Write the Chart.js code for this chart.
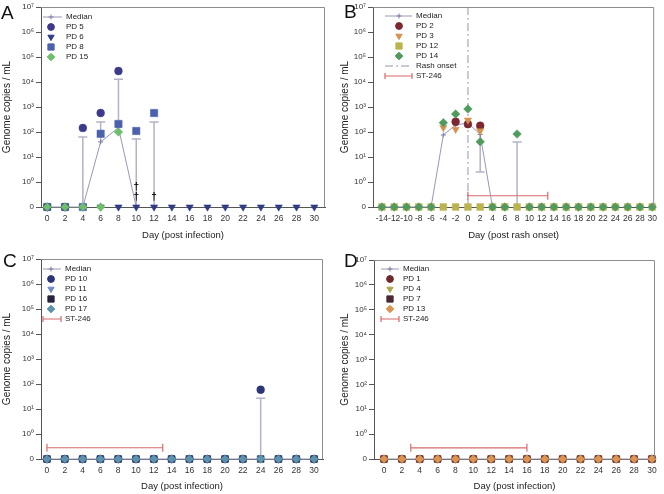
<!DOCTYPE html>
<html>
<head>
<meta charset="utf-8">
<script src="https://cdn.jsdelivr.net/npm/chart.js@4/dist/chart.umd.min.js"></script>
<style>
  body { margin: 0; background: #fff; }
  #wrap { position: relative; width: 664px; height: 494px; }
  canvas { position: absolute; }
</style>
</head>
<body>
<div id="wrap">
  <canvas id="cA" width="332" height="247" style="left:0;top:0"></canvas>
  <canvas id="cB" width="332" height="247" style="left:332px;top:0"></canvas>
  <canvas id="cC" width="332" height="247" style="left:0;top:247px"></canvas>
  <canvas id="cD" width="332" height="247" style="left:332px;top:247px"></canvas>
</div>
<script>
// ---- data (genome copies / mL, 0 = undetected) ----
const daysA = [0, 2, 4, 6, 8, 10, 12, 14, 16, 18, 20, 22, 24, 26, 28, 30];
const medianA = [0, 0, 0, 40, 150, 0];
const pd5 = [0, 0, 145, 575, 27500];
const pd6 = [0, 0, 0, 0, 0, 0, 0, 0, 0, 0, 0, 0, 0, 0, 0, 0];
const pd8 = [0, 0, 0, 85, 210, 110, 575];
const pd15 = [0, 0, 0, 0, 100];
const errDaysA = [4, 6, 8, 10, 12];
const errFromA = [0, 40, 150, 0, 0];
const errToA = [63, 250, 13000, 52, 250];
const deathDaysA = [10, 10, 12];

const daysB = [-14, -12, -10, -8, -6, -4, -2, 0, 2, 4, 6, 8, 10, 12, 14, 16, 18, 20, 22, 24, 26, 28, 30];
const medianB = [0, 0, 0, 0, 0, 76, 190, 230, 80, 0];
const pd2 = [null, null, null, null, null, null, 257, 205, 178];
const pd3 = [null, null, null, null, null, 150, 128, 300, 110];
const pd12 = [0, 0, 0, 0, 0, 0, 0, 0, 0, 0, 0, 0, 0, 0, 0, 0, 0, 0, 0, 0, 0, 0, 0];
const pd14 = [0, 0, 0, 0, 0, 235, 525, 830, 41, 0, 0, 83, 0, 0, 0, 0, 0, 0, 0, 0, 0, 0, 0];
const errDaysB = [2, 8];
const errFromB = [80, 0];
const errToB = [2.5, 40];
const rashDay = 0;
const stB = [0, 13];

const daysC = [0, 2, 4, 6, 8, 10, 12, 14, 16, 18, 20, 22, 24, 26, 28, 30];
const medianC = [0, 0, 0, 0, 0, 0, 0, 0, 0, 0, 0, 0, 0, 0, 0, 0];
const pd10 = [0, 0, 0, 0, 0, 0, 0, 0, 0, 0, 0, 0, 59, 0, 0, 0];
const pd11 = [0, 0, 0, 0, 0, 0, 0, 0, 0, 0, 0, 0, 0, 0, 0, 0];
const pd16 = [0, 0, 0, 0, 0, 0, 0, 0, 0, 0, 0, 0, 0, 0, 0, 0];
const pd17 = [0, 0, 0, 0, 0, 0, 0, 0, 0, 0, 0, 0, 0, 0, 0, 0];
const errDaysC = [24];
const errFromC = [0];
const errToC = [27];
const stC = [0, 13];

const daysD = [0, 2, 4, 6, 8, 10, 12, 14, 16, 18, 20, 22, 24, 26, 28, 30];
const medianD = [0, 0, 0, 0, 0, 0, 0, 0, 0, 0, 0, 0, 0, 0, 0, 0];
const pd1 = [0, 0, 0, 0, 0, 0, 0, 0, 0, 0, 0, 0, 0, 0, 0, 0];
const pd4 = [0, 0, 0, 0, 0, 0, 0, 0, 0, 0, 0, 0, 0, 0, 0, 0];
const pd7 = [0, 0, 0, 0, 0, 0, 0, 0, 0, 0, 0, 0, 0, 0, 0, 0];
const pd13 = [0, 0, 0, 0, 0, 0, 0, 0, 0, 0, 0, 0, 0, 0, 0, 0];
const stD = [3, 16];

const yTicks = [-1, 0, 1, 2, 3, 4, 5, 6, 7];
const SUP = ['\u2070', '\u00b9', '\u00b2', '\u00b3', '\u2074', '\u2075', '\u2076', '\u2077'];

// ---- helpers ----
const FONT = '"Liberation Sans", Arial, sans-serif';
Chart.defaults.font.family = FONT;
const MEDIAN_COL = '#9898b6';
const ERR_COL = '#b2b2c8';
const ST_COL = '#d86a6a';
const ST_LEVEL = -0.55;   // axis position of the ST-246 bar

// log10 position, undetected (0) sits on the "0" row one decade below 10^0
function pos(v) { return v == null ? null : (v > 0 ? Math.log10(v) : -1); }
function pts(days, vals) { return days.map((d, i) => ({ x: d, y: pos(vals[i]) })); }

function markers(label, days, vals, style, color, radius, rotation) {
  return {
    label, data: pts(days, vals), showLine: false, clip: false,
    pointStyle: style, pointRadius: radius, pointRotation: rotation || 0,
    pointBackgroundColor: color, pointBorderColor: color, pointBorderWidth: 0.5
  };
}
function medianSet(days, vals) {
  return {
    label: 'Median', data: pts(days, vals), showLine: true, clip: false,
    borderColor: MEDIAN_COL, borderWidth: 1,
    pointStyle: 'cross', pointRadius: 2.5, pointBorderColor: '#7c7ca4', pointBorderWidth: 1
  };
}

function extras(cfg) {
  return {
    id: 'extras',
    beforeDatasetsDraw(chart) {
      const { ctx, scales: { x, y }, chartArea: a } = chart;
      ctx.save();
      if (cfg.rash != null) {
        const px = x.getPixelForValue(cfg.rash);
        ctx.strokeStyle = '#c9c9d6';
        ctx.lineWidth = 2;
        ctx.setLineDash([8, 3, 2, 3]);
        ctx.beginPath(); ctx.moveTo(px, a.top); ctx.lineTo(px, a.bottom); ctx.stroke();
        ctx.setLineDash([]);
      }
      if (cfg.err) {
        ctx.strokeStyle = ERR_COL;
        ctx.lineWidth = 1.5;
        cfg.err.days.forEach((d, i) => {
          const px = x.getPixelForValue(d);
          const y0 = y.getPixelForValue(pos(cfg.err.from[i]));
          const y1 = y.getPixelForValue(pos(cfg.err.to[i]));
          ctx.beginPath();
          ctx.moveTo(px, y0); ctx.lineTo(px, y1);
          ctx.moveTo(px - 4.5, y1); ctx.lineTo(px + 4.5, y1);
          ctx.stroke();
        });
      }
      if (cfg.st) {
        const x0 = x.getPixelForValue(cfg.st[0]);
        const x1 = x.getPixelForValue(cfg.st[1]);
        const py = y.getPixelForValue(ST_LEVEL);
        ctx.strokeStyle = ST_COL;
        ctx.lineWidth = 1.2;
        ctx.beginPath();
        ctx.moveTo(x0, py); ctx.lineTo(x1, py);
        ctx.moveTo(x0, py - 4); ctx.lineTo(x0, py + 4);
        ctx.moveTo(x1, py - 4); ctx.lineTo(x1, py + 4);
        ctx.stroke();
      }
      ctx.restore();
    },
    afterDraw(chart) {
      const { ctx, scales: { x, y }, chartArea: a } = chart;
      ctx.save();
      // top and right frame
      ctx.strokeStyle = '#8c8c8c';
      ctx.lineWidth = 1;
      ctx.beginPath();
      ctx.moveTo(a.left, a.top + 0.5); ctx.lineTo(a.right - 0.5, a.top + 0.5); ctx.lineTo(a.right - 0.5, a.bottom);
      ctx.stroke();

      // legend
      const L = cfg.legend;
      ctx.font = '8px ' + FONT;
      ctx.textBaseline = 'middle';
      L.items.forEach((it, i) => {
        const ly = L.y + i * 10;
        ctx.fillStyle = '#222';
        ctx.fillText(it.label, L.textX, ly);
        if (it.kind === 'median') {
          ctx.strokeStyle = MEDIAN_COL; ctx.lineWidth = 1;
          ctx.beginPath(); ctx.moveTo(L.x0, ly); ctx.lineTo(L.x1, ly); ctx.stroke();
          ctx.strokeStyle = '#7c7ca4';
          Chart.helpers.drawPoint(ctx, { pointStyle: 'cross', radius: 2.5, borderWidth: 1, rotation: 0 }, L.mx, ly);
        } else if (it.kind === 'rash') {
          ctx.strokeStyle = '#c9c9d6'; ctx.lineWidth = 2;
          ctx.setLineDash([8, 3, 2, 3]);
          ctx.beginPath(); ctx.moveTo(L.x0, ly); ctx.lineTo(L.x1, ly); ctx.stroke();
          ctx.setLineDash([]);
        } else if (it.kind === 'st') {
          ctx.strokeStyle = ST_COL; ctx.lineWidth = 1.2;
          ctx.beginPath();
          ctx.moveTo(L.x0, ly); ctx.lineTo(L.x1, ly);
          ctx.moveTo(L.x0, ly - 3); ctx.lineTo(L.x0, ly + 3);
          ctx.moveTo(L.x1, ly - 3); ctx.lineTo(L.x1, ly + 3);
          ctx.stroke();
        } else {
          ctx.fillStyle = it.color; ctx.strokeStyle = it.color;
          Chart.helpers.drawPoint(ctx, { pointStyle: it.style, radius: it.r, borderWidth: 0.5, rotation: it.rot || 0 }, L.mx, ly);
        }
      });

      // deaths
      if (cfg.deaths) {
        ctx.fillStyle = '#000';
        ctx.font = 'bold 10px ' + FONT;
        ctx.textAlign = 'center';
        const count = {};
        cfg.deaths.forEach(d => {
          const k = count[d] = (count[d] || 0) + 1;
          ctx.fillText('\u2020', x.getPixelForValue(d), y.getPixelForValue(-1) - 10 - (k - 1) * 10);
        });
      }

      // panel letter
      ctx.fillStyle = '#111';
      ctx.textAlign = 'left';
      ctx.textBaseline = 'alphabetic';
      ctx.font = '19px ' + FONT;
      ctx.fillText(cfg.letter.t, cfg.letter.x, cfg.letter.y);
      ctx.restore();
    }
  };
}

function panel(id, cfg) {
  new Chart(document.getElementById(id), {
    type: 'scatter',
    data: { datasets: cfg.datasets },
    options: {
      responsive: false,
      animation: false,
      layout: { padding: { top: cfg.area.top, right: cfg.area.right, left: 0, bottom: 0 } },
      plugins: { legend: { display: false }, tooltip: { enabled: false } },
      scales: {
        x: {
          type: 'linear', min: cfg.xMin, max: cfg.xMax,
          afterBuildTicks: s => { s.ticks = cfg.xTicks.map(v => ({ value: v })); },
          afterFit: s => { s.height = cfg.area.xh; },
          grid: { drawOnChartArea: false, drawTicks: false },
          border: { color: '#555', width: 1 },
          ticks: { font: { size: 8.5 }, color: '#333', padding: 7, maxRotation: 0, autoSkip: false },
          title: { display: true, text: cfg.xTitle, font: { size: 9.5 }, color: '#222', padding: { top: 0, bottom: cfg.xTitlePad } }
        },
        y: {
          type: 'linear', min: -1, max: 7,
          afterBuildTicks: s => { s.ticks = yTicks.map(v => ({ value: v })); },
          afterFit: s => { s.width = cfg.area.left; },
          grid: { drawOnChartArea: false, drawTicks: true, tickLength: 5, color: '#555' },
          border: { color: '#555', width: 1 },
          ticks: { font: { size: 8 }, color: '#333', padding: 2, callback: v => v === -1 ? '0' : '10' + SUP[v] },
          title: { display: true, text: 'Genome copies / mL', font: { size: 10 }, color: '#222', padding: { top: cfg.yTitlePad, bottom: 0 } }
        }
      }
    },
    plugins: [extras(cfg)]
  });
}

// ---- A ----
panel('cA', {
  area: { left: 41, top: 7, right: 7, xh: 40 },
  xMin: -0.7, xMax: 31.2, xTicks: daysA, xTitle: 'Day (post infection)', xTitlePad: 6, yTitlePad: 1,
  datasets: [
    markers('PD 15', daysA, pd15, 'rectRot', '#6dbf6b', 4.3),
    markers('PD 5', daysA, pd5, 'circle', '#3d3a8c', 3.9),
    markers('PD 8', daysA, pd8, 'rect', '#4b61ad', 5.2),
    markers('PD 6', daysA, pd6, 'triangle', '#2f3b86', 4.2, 180),
    medianSet(daysA, medianA)
  ],
  err: { days: errDaysA, from: errFromA, to: errToA },
  deaths: deathDaysA,
  letter: { t: 'A', x: 1, y: 19 },
  legend: { x0: 43, x1: 62, mx: 51, textX: 66, y: 17, items: [
    { label: 'Median', kind: 'median' },
    { label: 'PD 5', style: 'circle', color: '#3d3a8c', r: 3.4 },
    { label: 'PD 6', style: 'triangle', color: '#2f3b86', r: 3.6, rot: 180 },
    { label: 'PD 8', style: 'rect', color: '#4b61ad', r: 4.4 },
    { label: 'PD 15', style: 'rectRot', color: '#6dbf6b', r: 3.8 }
  ] }
});

// ---- B ----
panel('cB', {
  area: { left: 41, top: 7, right: 7, xh: 40 },
  xMin: -15.45, xMax: 30.32, xTicks: daysB, xTitle: 'Day (post rash onset)', xTitlePad: 6, yTitlePad: 7,
  datasets: [
    markers('PD 14', daysB, pd14, 'rectRot', '#4f9a5c', 4.3),
    markers('PD 3', daysB, pd3, 'triangle', '#d7914f', 4.2, 180),
    markers('PD 2', daysB, pd2, 'circle', '#7d2731', 3.9),
    markers('PD 12', daysB, pd12, 'rect', '#bab44f', 4.8),
    medianSet(daysB, medianB)
  ],
  err: { days: errDaysB, from: errFromB, to: errToB },
  rash: rashDay,
  st: stB,
  letter: { t: 'B', x: 12, y: 18 },
  legend: { x0: 53, x1: 80, mx: 67, textX: 84, y: 16, items: [
    { label: 'Median', kind: 'median' },
    { label: 'PD 2', style: 'circle', color: '#7d2731', r: 3.4 },
    { label: 'PD 3', style: 'triangle', color: '#d7914f', r: 3.6, rot: 180 },
    { label: 'PD 12', style: 'rect', color: '#bab44f', r: 4.4 },
    { label: 'PD 14', style: 'rectRot', color: '#4f9a5c', r: 3.8 },
    { label: 'Rash onset', kind: 'rash' },
    { label: 'ST-246', kind: 'st' }
  ] }
});

// ---- C ----
panel('cC', {
  area: { left: 41, top: 12, right: 9, xh: 35 },
  xMin: -0.67, xMax: 31.0, xTicks: daysC, xTitle: 'Day (post infection)', xTitlePad: 2, yTitlePad: 1,
  datasets: [
    markers('PD 17', daysC, pd17, 'rectRot', '#5d93ab', 4.3),
    markers('PD 10', daysC, pd10, 'circle', '#2b3578', 3.9),
    markers('PD 11', daysC, pd11, 'triangle', '#6b8cc6', 4.2, 180),
    markers('PD 16', daysC, pd16, 'rect', '#24243e', 4.8),
    medianSet(daysC, medianC)
  ],
  err: { days: errDaysC, from: errFromC, to: errToC },
  st: stC,
  letter: { t: 'C', x: 3, y: 20 },
  legend: { x0: 43, x1: 61, mx: 51, textX: 65, y: 22, items: [
    { label: 'Median', kind: 'median' },
    { label: 'PD 10', style: 'circle', color: '#2b3578', r: 3.4 },
    { label: 'PD 11', style: 'triangle', color: '#6b8cc6', r: 3.6, rot: 180 },
    { label: 'PD 16', style: 'rect', color: '#24243e', r: 4.4 },
    { label: 'PD 17', style: 'rectRot', color: '#5d93ab', r: 3.8 },
    { label: 'ST-246', kind: 'st' }
  ] }
});

// ---- D ----
panel('cD', {
  area: { left: 42, top: 13, right: 9, xh: 35 },
  xMin: -1.12, xMax: 30.34, xTicks: daysD, xTitle: 'Day (post infection)', xTitlePad: 2, yTitlePad: 7,
  datasets: [
    markers('PD 13', daysD, pd13, 'rectRot', '#da9550', 4.3),
    markers('PD 1', daysD, pd1, 'circle', '#6e2a31', 3.9),
    markers('PD 4', daysD, pd4, 'triangle', '#aaa74d', 4.2, 180),
    markers('PD 7', daysD, pd7, 'rect', '#4a2832', 4.8),
    medianSet(daysD, medianD)
  ],
  st: stD,
  letter: { t: 'D', x: 12, y: 20 },
  legend: { x0: 49, x1: 67, mx: 58, textX: 71, y: 22, items: [
    { label: 'Median', kind: 'median' },
    { label: 'PD 1', style: 'circle', color: '#6e2a31', r: 3.4 },
    { label: 'PD 4', style: 'triangle', color: '#aaa74d', r: 3.6, rot: 180 },
    { label: 'PD 7', style: 'rect', color: '#4a2832', r: 4.4 },
    { label: 'PD 13', style: 'rectRot', color: '#da9550', r: 3.8 },
    { label: 'ST-246', kind: 'st' }
  ] }
});
</script>
</body>
</html>
